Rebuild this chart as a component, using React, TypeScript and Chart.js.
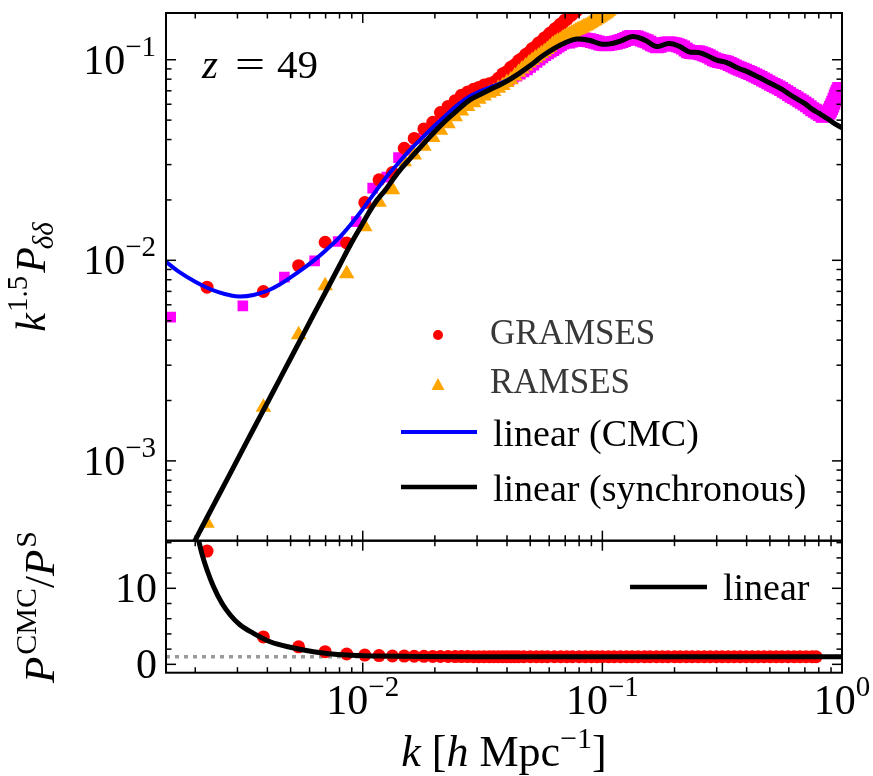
import React, { useEffect, useRef } from 'react';
import { Chart, registerables } from 'chart.js';
Chart.register(...registerables);

const FONT = '"Liberation Serif", "DejaVu Serif", serif';

// ---------- axis ranges ----------
const X_MIN = 0.00151;
const X_MAX = 1.0;
const TOP_MIN = 4.0e-4;
const TOP_MAX = 0.171;
const BOT_MIN = -1.1;
const BOT_MAX = 16.26;

// ---------- ticks ----------
const xMajorTicks = [0.01, 0.1, 1];
const xTickExps = ['−2', '−1', '0'];
const xMinorTicks = [0.002, 0.003, 0.004, 0.005, 0.006, 0.007, 0.008, 0.009, 0.02, 0.03, 0.04, 0.05, 0.06, 0.07, 0.08, 0.09, 0.2, 0.3, 0.4, 0.5, 0.6, 0.7, 0.8, 0.9];
const topYMajor = [0.001, 0.01, 0.1];
const topYExps = ['−3', '−2', '−1'];
const topYMinor = [5e-4, 6e-4, 7e-4, 8e-4, 9e-4, 0.002, 0.003, 0.004, 0.005, 0.006, 0.007, 0.008, 0.009, 0.02, 0.03, 0.04, 0.05, 0.06, 0.07, 0.08, 0.09];
const botYMajor = [0, 10];
const botYLabels = ['0', '10'];
const botYMinor = [2, 4, 6, 8, 12, 14, 16];

// ---------- linear theory curves (top panel) ----------
const kLin = [0.00151, 0.0017, 0.002, 0.00224, 0.0025, 0.0028, 0.00308, 0.0035, 0.004, 0.0045, 0.005, 0.0056, 0.0063, 0.007, 0.008, 0.009, 0.01, 0.0112, 0.0125, 0.014, 0.016, 0.018, 0.02, 0.0224, 0.025, 0.028, 0.0315, 0.035, 0.04, 0.045, 0.05, 0.056, 0.063, 0.07, 0.078, 0.088, 0.1, 0.11, 0.12, 0.134, 0.15, 0.168, 0.19, 0.21, 0.23, 0.254, 0.28, 0.3, 0.33, 0.37, 0.4, 0.45, 0.5, 0.56, 0.62, 0.7, 0.75, 0.8, 0.87, 0.92, 1.0];
const pSync = [2.15e-4, 2.79e-4, 4.03e-4, 5.22e-4, 6.7e-4, 8.67e-4, 1.077e-3, 1.442e-3, 1.95e-3, 2.55e-3, 3.24e-3, 4.19e-3, 5.48e-3, 6.95e-3, 9.42e-3, 0.0123, 0.0153, 0.0192, 0.0226, 0.0273, 0.0328, 0.0383, 0.0439, 0.0502, 0.0564, 0.0631, 0.0678, 0.0722, 0.0782, 0.0855, 0.0935, 0.104, 0.114, 0.1216, 0.1268, 0.125, 0.1195, 0.1205, 0.1245, 0.1306, 0.1255, 0.1165, 0.1205, 0.1165, 0.1095, 0.1085, 0.1035, 0.0995, 0.0968, 0.0907, 0.0875, 0.0817, 0.0765, 0.0713, 0.0658, 0.0604, 0.0567, 0.0541, 0.0508, 0.0485, 0.0458];
const pCMC = [0.00983, 0.00881, 0.00781, 0.0073, 0.00694, 0.00669, 0.0066, 0.00672, 0.00705, 0.00758, 0.00822, 0.00903, 0.01005, 0.0112, 0.013, 0.0153, 0.018, 0.0217, 0.0259, 0.0303, 0.0362, 0.0416, 0.047, 0.0532, 0.0598, 0.0657, 0.0703, 0.0738, 0.079, 0.0858, 0.0935, 0.104, 0.114, 0.1216, 0.1268, 0.125, 0.1195, 0.1205, 0.1245, 0.1306, 0.1255, 0.1165, 0.1205, 0.1165, 0.1095, 0.1085, 0.1035, 0.0995, 0.0968, 0.0907, 0.0875, 0.0817, 0.0765, 0.0713, 0.0658, 0.0604, 0.0567, 0.0541, 0.0508, 0.0485, 0.0458];

// ---------- GRAMSES (red circles) ----------
const kGram = [0.00224, 0.00385, 0.0054, 0.00697, 0.00857, 0.0102, 0.0117, 0.0133, 0.0149, 0.0164, 0.018, 0.0196, 0.0211, 0.0227, 0.0243, 0.0258, 0.0274, 0.029, 0.0305, 0.0321, 0.0337, 0.0352, 0.0368, 0.0384, 0.0399, 0.0415, 0.0431, 0.0447, 0.0462, 0.0478, 0.0494, 0.0509, 0.0525, 0.0541, 0.0556, 0.0572, 0.0588, 0.0603, 0.0619, 0.0635, 0.065, 0.0666, 0.0682, 0.0697, 0.0713, 0.0729, 0.0744, 0.076, 0.0776, 0.0791, 0.0807];
const pGram = [0.00735, 0.00699, 0.0094, 0.0123, 0.0122, 0.0194, 0.0252, 0.0274, 0.0362, 0.0405, 0.0452, 0.0488, 0.0545, 0.0585, 0.0625, 0.0665, 0.069, 0.0712, 0.0728, 0.0748, 0.0758, 0.0772, 0.0808, 0.0851, 0.0872, 0.0918, 0.0944, 0.0991, 0.1015, 0.1062, 0.1088, 0.1135, 0.116, 0.1212, 0.123, 0.1282, 0.1305, 0.1355, 0.1378, 0.1428, 0.145, 0.1502, 0.152, 0.1575, 0.1595, 0.165, 0.1668, 0.1725, 0.174, 0.1795, 0.181];

// ---------- RAMSES (orange triangles) ----------
const kRam = [0.00224, 0.00385, 0.0054, 0.00697, 0.00857, 0.0102, 0.0117, 0.0133, 0.0149, 0.0164, 0.018, 0.0196, 0.0211, 0.0227, 0.0243, 0.0258, 0.0274, 0.029, 0.0305, 0.0321, 0.0337, 0.0352, 0.0368, 0.0384, 0.0399, 0.0415, 0.0431, 0.0447, 0.0462, 0.0478, 0.0494, 0.0509, 0.0525, 0.0541, 0.0556, 0.0572, 0.0588, 0.0603, 0.0619, 0.0635, 0.065, 0.0666, 0.0682, 0.0697, 0.0713, 0.0729, 0.0744, 0.076, 0.0776, 0.0791, 0.0807, 0.0823, 0.0838, 0.0854, 0.087, 0.0885, 0.0901, 0.0917, 0.0932, 0.0948, 0.0964, 0.098, 0.0995, 0.1011, 0.1027, 0.1042, 0.1058, 0.1074, 0.1089, 0.1105];
const pRam = [0.000489, 0.00185, 0.00425, 0.00746, 0.00857, 0.0147, 0.0195, 0.0225, 0.031, 0.0335, 0.037, 0.041, 0.0445, 0.048, 0.052, 0.0555, 0.0585, 0.061, 0.0635, 0.066, 0.068, 0.0695, 0.072, 0.0745, 0.077, 0.0795, 0.083, 0.0865, 0.09, 0.093, 0.0962, 0.099, 0.102, 0.1045, 0.107, 0.1095, 0.1125, 0.1155, 0.119, 0.1215, 0.1235, 0.1255, 0.128, 0.13, 0.132, 0.134, 0.136, 0.1375, 0.1395, 0.141, 0.1425, 0.144, 0.146, 0.1475, 0.149, 0.151, 0.153, 0.155, 0.157, 0.159, 0.161, 0.163, 0.165, 0.167, 0.169, 0.171, 0.174, 0.177, 0.18, 0.183];

// ---------- unlabelled run (magenta squares) ----------
const kMagLow = [0.00158, 0.00316, 0.00471, 0.0063, 0.0079, 0.0094, 0.011, 0.0126, 0.0141, 0.0157, 0.0173, 0.0188, 0.0204, 0.022, 0.0236, 0.0251, 0.0267, 0.0283, 0.0298, 0.0314, 0.033, 0.0345, 0.0361, 0.0377, 0.0393, 0.0408, 0.0424, 0.044, 0.0455, 0.0471, 0.0487, 0.0502, 0.0518, 0.0534, 0.055, 0.0565, 0.0581, 0.0597, 0.0612, 0.0628, 0.0644, 0.066, 0.0675, 0.0691, 0.0707];
const pMagLow = [0.00521, 0.00593, 0.00824, 0.00994, 0.0124, 0.0156, 0.0229, 0.026, 0.0325, 0.0355, 0.0405, 0.045, 0.0488, 0.053, 0.0565, 0.0598, 0.0628, 0.0655, 0.0678, 0.0698, 0.0715, 0.073, 0.0745, 0.076, 0.0775, 0.079, 0.0808, 0.0828, 0.0848, 0.0868, 0.089, 0.0915, 0.094, 0.0968, 0.0995, 0.1022, 0.1048, 0.107, 0.109, 0.111, 0.1132, 0.1155, 0.1175, 0.1195, 0.121];
const kMagHigh = [0.072, 0.074, 0.076, 0.078, 0.08, 0.082, 0.084, 0.086, 0.088, 0.0905,
  0.093, 0.0955, 0.098, 0.1005, 0.103, 0.1055, 0.108, 0.111, 0.114, 0.117,
  0.12, 0.123, 0.126, 0.129, 0.132, 0.1355, 0.139, 0.1425, 0.146, 0.1495,
  0.153, 0.157, 0.161, 0.165, 0.169, 0.1735, 0.178, 0.1825, 0.187, 0.1915,
  0.196, 0.201, 0.206, 0.2115, 0.217, 0.2225, 0.228, 0.234, 0.24, 0.246,
  0.252, 0.2585, 0.265, 0.2715, 0.278, 0.285, 0.292, 0.2995, 0.307, 0.315,
  0.323, 0.3315, 0.34, 0.3485, 0.357, 0.366, 0.375, 0.3845, 0.394, 0.404,
  0.414, 0.4245, 0.435, 0.446, 0.457, 0.4685, 0.48, 0.4925, 0.505, 0.5175,
  0.53, 0.5435, 0.557, 0.5715, 0.586, 0.601, 0.616, 0.6315, 0.647, 0.6635,
  0.68, 0.6975, 0.715, 0.733, 0.751, 0.7705, 0.79, 0.81, 0.83, 0.845,
  0.857, 0.868, 0.88, 0.89, 0.9, 0.91, 0.92, 0.931, 0.942, 0.951,
  0.96, 0.968, 0.975];
const pMagHigh = [0.1232, 0.1246, 0.1258, 0.1265, 0.1268, 0.1265, 0.126, 0.1255, 0.125, 0.124,
  0.123, 0.1218, 0.1205, 0.1198, 0.1195, 0.1198, 0.1205, 0.1212, 0.122, 0.123,
  0.124, 0.1255, 0.127, 0.1287, 0.13, 0.1298, 0.129, 0.1277, 0.126, 0.1248,
  0.1235, 0.1215, 0.1195, 0.118, 0.1167, 0.1175, 0.1188, 0.1198, 0.1205, 0.1205,
  0.1198, 0.119, 0.118, 0.1166, 0.115, 0.1125, 0.1103, 0.1093, 0.109, 0.1089,
  0.1087, 0.1077, 0.1064, 0.1052, 0.104, 0.1022, 0.1005, 0.0994, 0.0985, 0.0979,
  0.0974, 0.0966, 0.0953, 0.0938, 0.0924, 0.0912, 0.0902, 0.0891, 0.088, 0.0869,
  0.0858, 0.0846, 0.0834, 0.0822, 0.081, 0.0798, 0.0786, 0.0773, 0.076, 0.0749,
  0.0738, 0.0727, 0.0715, 0.0701, 0.0688, 0.0675, 0.0662, 0.0651, 0.064, 0.0628,
  0.0617, 0.0605, 0.0593, 0.058, 0.0567, 0.0556, 0.0546, 0.0536, 0.0526, 0.0527,
  0.0532, 0.0538, 0.0545, 0.0558, 0.0575, 0.0592, 0.061, 0.0632, 0.0656, 0.0673,
  0.069, 0.0703, 0.0715];

// ---------- ratio panel ----------
const kRatio = [0.00224, 0.00385, 0.0054, 0.00697, 0.00857, 0.0102, 0.0117, 0.0133, 0.0149, 0.0164, 0.018, 0.0196, 0.0211, 0.0227, 0.0243, 0.0258, 0.0274, 0.029, 0.0305, 0.0321, 0.0337, 0.0352, 0.0368, 0.0384, 0.0399, 0.0415, 0.0431, 0.0447, 0.047, 0.05, 0.053, 0.056, 0.059, 0.063, 0.067, 0.071, 0.075, 0.08, 0.085, 0.09, 0.095, 0.1, 0.106, 0.112, 0.119, 0.126, 0.133, 0.141, 0.15, 0.158, 0.168, 0.178, 0.188, 0.2, 0.211, 0.224, 0.237, 0.251, 0.266, 0.282, 0.299, 0.316, 0.335, 0.355, 0.376, 0.398, 0.422, 0.447, 0.473, 0.501, 0.531, 0.562, 0.596, 0.631, 0.668, 0.708, 0.75, 0.78];
const ratioGram = [14.9, 3.6, 2.3, 1.66, 1.36, 1.22, 1.15, 1.1, 1.08, 1.06, 1.05, 1.04, 1.03, 1.03, 1.02, 1.02, 1.02, 1.01, 1.01, 1.01, 1.0, 1.0, 1.0, 1.0, 1.0, 1.0, 1.0, 1.0, 1.0, 1.0, 1.0, 1.0, 1.0, 1.0, 1.0, 1.0, 1.0, 1.0, 1.0, 1.0, 1.0, 1.0, 1.0, 1.0, 1.0, 1.0, 1.0, 1.0, 1.0, 1.0, 1.0, 1.0, 1.0, 1.0, 1.0, 1.0, 1.0, 1.0, 1.0, 1.0, 1.0, 1.0, 1.0, 1.0, 1.0, 1.0, 1.0, 1.0, 1.0, 1.0, 1.0, 1.0, 1.0, 1.0, 1.0, 1.0, 1.0, 1.0];
const kRatioLin = [0.00195, 0.00206, 0.00213, 0.00224, 0.002385, 0.002585, 0.0028, 0.00308, 0.0035, 0.00411, 0.00498, 0.00623, 0.00858, 0.0118, 0.017, 0.0308, 0.1, 1.0];
const ratioLin = [18.5, 16.4, 14.6, 12.4, 10.2, 8.03, 6.49, 5.17, 4.08, 2.97, 2.24, 1.66, 1.22, 1.09, 1.03, 1.0, 1.0, 1.0];
const kUnity = [X_MIN, X_MAX];
const unity = [1, 1];

const pts = (xs: number[], ys: number[]) => xs.map((x, i) => ({ x, y: ys[i] }));

// ---------- text helpers ----------
type Part = { t: string; s: number; it?: boolean; dy?: number; dx?: number };
const fontOf = (p: Part) => `${p.it ? 'italic ' : ''}${p.s}px ${FONT}`;
function richWidth(ctx: CanvasRenderingContext2D, parts: Part[]) {
  let w = 0;
  for (const p of parts) {
    ctx.font = fontOf(p);
    w += ctx.measureText(p.t).width + (p.dx || 0);
  }
  return w;
}
function drawRich(ctx: CanvasRenderingContext2D, parts: Part[], x: number, y: number, align: 'left' | 'center' | 'right') {
  const w = richWidth(ctx, parts);
  let cx = align === 'left' ? x : align === 'center' ? x - w / 2 : x - w;
  ctx.textBaseline = 'alphabetic';
  ctx.textAlign = 'left';
  for (const p of parts) {
    ctx.font = fontOf(p);
    cx += p.dx || 0;
    ctx.fillText(p.t, cx, y + (p.dy || 0));
    cx += ctx.measureText(p.t).width;
  }
}

function frameAndTicks(chart: any, yMajor: number[], yMinor: number[]) {
  const { ctx, chartArea: a } = chart;
  const xs = chart.scales.x;
  const ys = chart.scales.y;
  ctx.save();
  ctx.strokeStyle = '#000';
  ctx.setLineDash([]);
  const line = (x1: number, y1: number, x2: number, y2: number) => {
    ctx.beginPath();
    ctx.moveTo(x1, y1);
    ctx.lineTo(x2, y2);
    ctx.stroke();
  };
  const inX = (v: number) => v >= xs.min && v <= xs.max;
  const inY = (v: number) => v >= ys.min && v <= ys.max;
  ctx.lineWidth = 1.5;
  for (const v of xMajorTicks) if (inX(v)) {
    const px = xs.getPixelForValue(v);
    line(px, a.bottom, px, a.bottom - 10);
    line(px, a.top, px, a.top + 10);
  }
  for (const v of xMinorTicks) if (inX(v)) {
    const px = xs.getPixelForValue(v);
    line(px, a.bottom, px, a.bottom - 5.5);
    line(px, a.top, px, a.top + 5.5);
  }
  for (const v of yMajor) if (inY(v)) {
    const py = ys.getPixelForValue(v);
    line(a.left, py, a.left + 10, py);
    line(a.right, py, a.right - 10, py);
  }
  for (const v of yMinor) if (inY(v)) {
    const py = ys.getPixelForValue(v);
    line(a.left, py, a.left + 5.5, py);
    line(a.right, py, a.right - 5.5, py);
  }
  ctx.lineWidth = 2;
  ctx.strokeRect(a.left, a.top, a.right - a.left, a.bottom - a.top);
  ctx.restore();
}

const topDeco = {
  id: 'topDeco',
  afterDraw(chart: any) {
    const { ctx } = chart;
    frameAndTicks(chart, topYMajor, topYMinor);
    const ys = chart.scales.y;
    ctx.save();
    ctx.fillStyle = '#000';
    topYMajor.forEach((v, i) => {
      const py = ys.getPixelForValue(v);
      drawRich(ctx, [{ t: '10', s: 42 }, { t: topYExps[i], s: 29, dy: -18 }], 156, py + 14, 'right');
    });
    // z = 49
    ctx.font = `italic 41px ${FONT}`;
    ctx.fillText('z', 202, 78);
    ctx.font = `41px ${FONT}`;
    ctx.save();
    ctx.translate(250, 78);
    ctx.scale(1.3, 1);
    ctx.textAlign = 'center';
    ctx.fillText('=', 0, 0);
    ctx.restore();
    ctx.fillText('49', 277, 78);
    // y label
    ctx.save();
    ctx.translate(45, 277);
    ctx.rotate(-Math.PI / 2);
    drawRich(ctx, [
      { t: 'k', s: 42, it: true },
      { t: '1.5', s: 29, dy: -18, dx: 1 },
      { t: 'P', s: 42, it: true, dx: 3 },
      { t: 'δδ', s: 29, it: true, dy: 8, dx: -2 },
    ], 0, 0, 'center');
    ctx.restore();
    // legend
    ctx.fillStyle = '#ff0000';
    ctx.beginPath();
    ctx.arc(438, 335, 5, 0, Math.PI * 2);
    ctx.fill();
    ctx.fillStyle = '#ffa500';
    ctx.beginPath();
    ctx.moveTo(438, 378);
    ctx.lineTo(444.5, 390);
    ctx.lineTo(431.5, 390);
    ctx.closePath();
    ctx.fill();
    ctx.fillStyle = '#383838';
    ctx.font = `35px ${FONT}`;
    ctx.fillText('GRAMSES', 490, 344);
    ctx.fillText('RAMSES', 490, 393);
    ctx.lineWidth = 4;
    ctx.strokeStyle = '#0000ff';
    ctx.beginPath();
    ctx.moveTo(401, 432);
    ctx.lineTo(477, 432);
    ctx.stroke();
    ctx.strokeStyle = '#000';
    ctx.lineWidth = 4.5;
    ctx.beginPath();
    ctx.moveTo(401, 487);
    ctx.lineTo(477, 487);
    ctx.stroke();
    ctx.fillStyle = '#000';
    ctx.font = `38px ${FONT}`;
    ctx.fillText('linear (CMC)', 493, 446);
    ctx.fillText('linear (synchronous)', 493, 501);
    ctx.restore();
  },
};

const botDeco = {
  id: 'botDeco',
  afterDraw(chart: any) {
    const { ctx } = chart;
    frameAndTicks(chart, botYMajor, botYMinor);
    const xs = chart.scales.x;
    const ys = chart.scales.y;
    ctx.save();
    ctx.fillStyle = '#000';
    botYMajor.forEach((v, i) => {
      const py = ys.getPixelForValue(v);
      drawRich(ctx, [{ t: botYLabels[i], s: 42 }], 157, py + 14, 'right');
    });
    xMajorTicks.forEach((v, i) => {
      const px = xs.getPixelForValue(v);
      drawRich(ctx, [{ t: '10', s: 42 }, { t: xTickExps[i], s: 29, dy: -18 }], px, 714, 'center');
    });
    drawRich(ctx, [
      { t: 'k', s: 44, it: true },
      { t: ' [', s: 44 },
      { t: 'h', s: 44, it: true },
      { t: ' Mpc', s: 44 },
      { t: '−1', s: 30, dy: -18 },
      { t: ']', s: 44 },
    ], 504, 766, 'center');
    ctx.save();
    ctx.translate(54, 607);
    ctx.rotate(-Math.PI / 2);
    drawRich(ctx, [
      { t: 'P', s: 43, it: true },
      { t: 'CMC', s: 30, dy: -18, dx: 2 },
      { t: '/', s: 43 },
      { t: 'P', s: 43, it: true },
      { t: 'S', s: 30, dy: -18, dx: 2 },
    ], 0, 0, 'center');
    ctx.restore();
    // legend
    ctx.strokeStyle = '#000';
    ctx.lineWidth = 4.5;
    ctx.beginPath();
    ctx.moveTo(630, 587);
    ctx.lineTo(707, 587);
    ctx.stroke();
    ctx.font = `38px ${FONT}`;
    ctx.fillText('linear', 723, 600);
    ctx.restore();
  },
};

const common = {
  responsive: false,
  animation: false as const,
  events: [] as any[],
  plugins: { legend: { display: false }, tooltip: { enabled: false } },
};

export default function App() {
  const topRef = useRef<HTMLCanvasElement | null>(null);
  const botRef = useRef<HTMLCanvasElement | null>(null);

  useEffect(() => {
    if (!topRef.current || !botRef.current) return;
    const magData = [...pts(kMagLow, pMagLow), ...pts(kMagHigh, pMagHigh)];
    const magRadius = [...kMagLow.map(() => 7.5), ...kMagHigh.map(() => 9.9)];
    const top = new Chart(topRef.current, {
      type: 'scatter',
      data: {
        datasets: [
          { label: 'magenta', data: magData, pointStyle: 'rect', pointRadius: magRadius, pointBackgroundColor: '#ff00ff', pointBorderWidth: 0, showLine: false, order: 5, clip: 0 } as any,
          { label: 'GRAMSES', data: pts(kGram, pGram), pointStyle: 'circle', pointRadius: 6.5, pointBackgroundColor: '#ff0000', pointBorderWidth: 0, showLine: false, order: 4, clip: 0 },
          { label: 'RAMSES', data: pts(kRam, pRam), pointStyle: 'triangle', pointRadius: 9, pointBackgroundColor: '#ffa500', pointBorderWidth: 0, showLine: false, order: 3, clip: 0 },
          { label: 'linear (CMC)', data: pts(kLin, pCMC), showLine: true, borderColor: '#0000ff', borderWidth: 4, pointRadius: 0, tension: 0.4, order: 2, clip: 0 },
          { label: 'linear (synchronous)', data: pts(kLin, pSync), showLine: true, borderColor: '#000000', borderWidth: 5, pointRadius: 0, tension: 0.4, order: 1, clip: 0 },
        ],
      },
      options: {
        ...common,
        layout: { padding: { left: 166, right: 31, top: 13, bottom: 235.3 } },
        scales: {
          x: { type: 'logarithmic', min: X_MIN, max: X_MAX, display: false },
          y: { type: 'logarithmic', min: TOP_MIN, max: TOP_MAX, display: false },
        },
      } as any,
      plugins: [topDeco],
    });
    const bot = new Chart(botRef.current, {
      type: 'scatter',
      data: {
        datasets: [
          { label: 'unity', data: pts(kUnity, unity), showLine: true, borderColor: '#9a9a9a', borderWidth: 3.5, borderDash: [4, 5], pointRadius: 0, order: 3, clip: 0 } as any,
          { label: 'GRAMSES ratio', data: pts(kRatio, ratioGram), pointStyle: 'circle', pointRadius: 6.5, pointBackgroundColor: '#ff0000', pointBorderWidth: 0, showLine: false, order: 2, clip: 0 },
          { label: 'linear', data: pts(kRatioLin, ratioLin), showLine: true, borderColor: '#000000', borderWidth: 5, pointRadius: 0, cubicInterpolationMode: 'monotone', order: 1, clip: 0 },
        ],
      },
      options: {
        ...common,
        layout: { padding: { left: 166, right: 31, top: 540.7, bottom: 103.3 } },
        scales: {
          x: { type: 'logarithmic', min: X_MIN, max: X_MAX, display: false },
          y: { type: 'linear', min: BOT_MIN, max: BOT_MAX, display: false },
        },
      } as any,
      plugins: [botDeco],
    });
    return () => {
      top.destroy();
      bot.destroy();
    };
  }, []);

  const cstyle: React.CSSProperties = { position: 'absolute', left: 0, top: 0, width: 873, height: 776 };
  return (
    <div style={{ position: 'absolute', left: 0, top: 0, width: 873, height: 776, background: '#fff' }}>
      <canvas ref={topRef} width={873} height={776} style={cstyle} />
      <canvas ref={botRef} width={873} height={776} style={cstyle} />
    </div>
  );
}
